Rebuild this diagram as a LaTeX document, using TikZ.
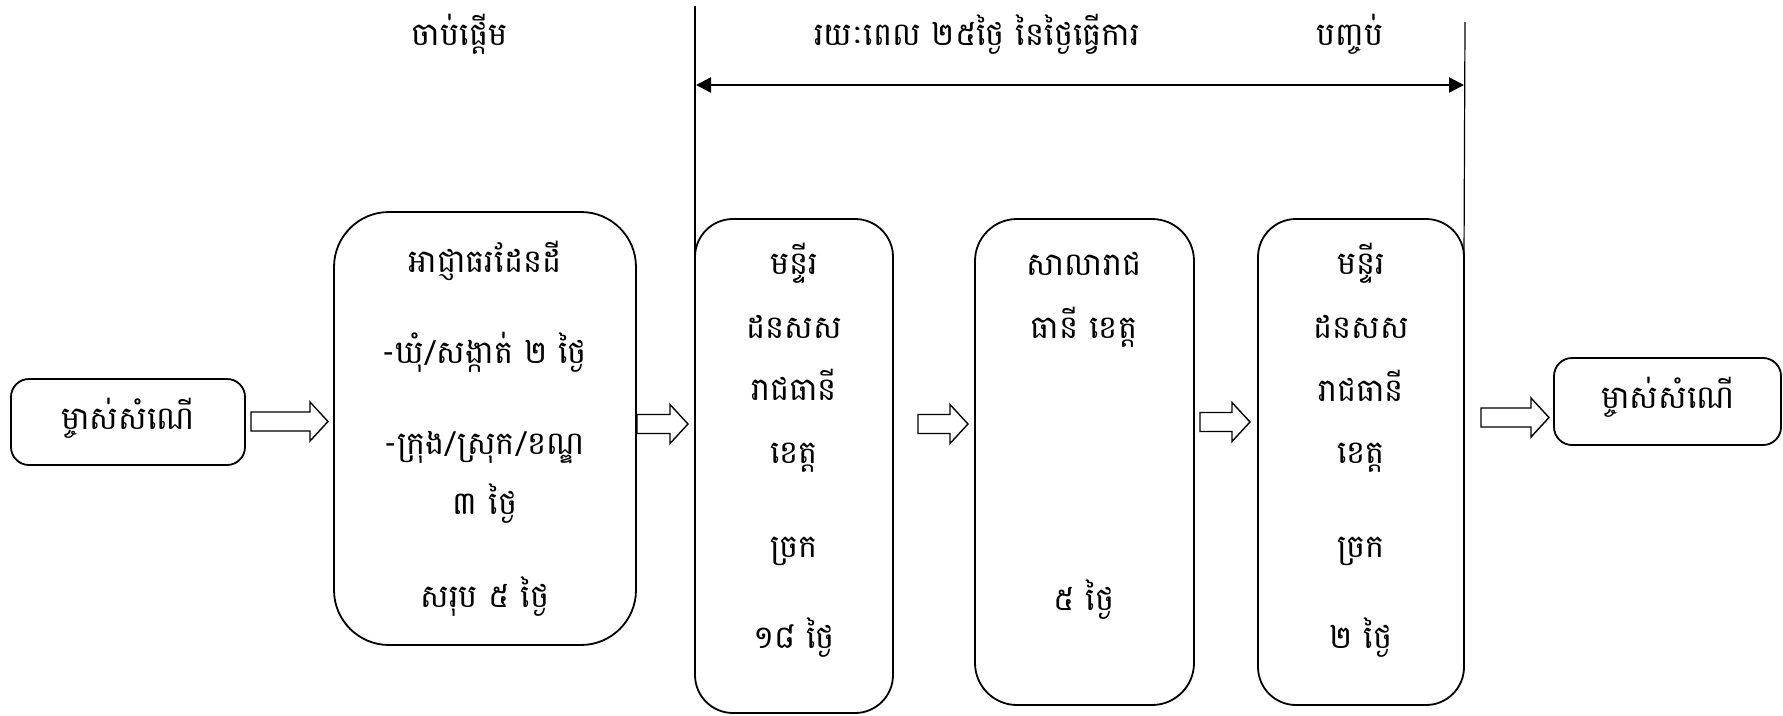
\documentclass[tikz,border=0pt]{standalone}
\usepackage{fontspec}
\newfontfamily\kh[Script=Khmer]{Battambang}
\usetikzlibrary{arrows.meta,calc}
\begin{document}
\begin{tikzpicture}[x=1pt,y=-1pt,
  box/.style={draw=black, line width=1.8pt, fill=white, inner sep=0pt, outer sep=0pt},
  txt/.style={font={\kh\fontsize{32pt}{36pt}\selectfont}, anchor=base, inner sep=0pt},
  vline/.style={draw=black, line width=1.2pt},
  span/.style={draw=black, line width=2.4pt, {Triangle[length=15pt,width=15pt]}-{Triangle[length=15pt,width=15pt]}},
  blk/.style={draw=black, line width=1.4pt, fill=white, line join=miter,
    to path={let \p1=(\tikztostart), \p2=(\tikztotarget) in
      (\x1,\y1+9.5pt) -- (\x2-18pt,\y1+9.5pt) -- (\x2-18pt,\y1+19.5pt) -- (\x2,\y1)
      -- (\x2-18pt,\y1-19.5pt) -- (\x2-18pt,\y1-9.5pt) -- (\x1,\y1-9.5pt) -- cycle}}
]
\useasboundingbox (0,0) rectangle (1783,715);

% boxes
\node[box, minimum width=234pt, minimum height=86pt, rounded corners=18pt] (A) at (128,422) {};
\node[box, minimum width=302pt, minimum height=433pt, rounded corners=55pt] (B) at (485,428.5) {};
\node[box, minimum width=198pt, minimum height=494pt, rounded corners=38pt] (C) at (794,466) {};
\node[box, minimum width=219pt, minimum height=486pt, rounded corners=42pt] (D) at (1084.5,462) {};
\node[box, minimum width=206pt, minimum height=486pt, rounded corners=38pt] (E) at (1361,462) {};
\node[box, minimum width=227pt, minimum height=87pt, rounded corners=18pt] (F) at (1667.5,401.5) {};

% texts
\node[txt] (tA) at (128,429) {ម្ចាស់សំណើ};
\node[txt] (tF) at (1668,408) {ម្ចាស់សំណើ};

\node[txt] (tB1) at (485,272) {អាជ្ញាធរដែនដី};
\node[txt] (tB2) at (485,363) {-ឃុំ/សង្កាត់ ២ ថ្ងៃ};
\node[txt] (tB3) at (485,454) {-ក្រុង/ស្រុក/ខណ្ឌ};
\node[txt] (tB4) at (485,514) {៣ ថ្ងៃ};
\node[txt] (tB5) at (485,607) {សរុប ៥ ថ្ងៃ};

\node[txt] (tC1) at (794,274) {មន្ទីរ};
\node[txt] (tC2) at (794,338) {ដនសស};
\node[txt] (tC3) at (794,400) {រាជធានី};
\node[txt] (tC4) at (794,463) {ខេត្ត};
\node[txt] (tC5) at (794,557) {ច្រក};
\node[txt] (tC6) at (794,648) {១៨ ថ្ងៃ};

\node[txt] (tD1) at (1084,275) {សាលារាជ};
\node[txt] (tD2) at (1084,338) {ធានី ខេត្ត};
\node[txt] (tD3) at (1084,610) {៥ ថ្ងៃ};

\node[txt] (tE1) at (1361,274) {មន្ទីរ};
\node[txt] (tE2) at (1361,338) {ដនសស};
\node[txt] (tE3) at (1361,401) {រាជធានី};
\node[txt] (tE4) at (1361,463) {ខេត្ត};
\node[txt] (tE5) at (1361,557) {ច្រក};
\node[txt] (tE6) at (1361,648) {២ ថ្ងៃ};

\node[txt] (top1) at (459.5,45) {ចាប់ផ្ដើម};
\node[txt] (top2) at (977,45) {រយៈពេល ២៥ថ្ងៃ នៃថ្ងៃធ្វើការ};
\node[txt] (top3) at (1350,45) {បញ្ចប់};

% vertical lines and span arrow
\coordinate (vL) at (695,6);
\coordinate (vR) at (1465,22);
\draw[vline] (vL) -- ([yshift=-38pt]C.north west);
\draw[vline] (vR) -- ([yshift=-38pt]E.north east);
\coordinate (hL) at (696,85);
\coordinate (hR) at (1464,85);
\draw[span] (hL) -- (hR);

% block arrows
\coordinate (a1s) at ($(A.east)+(6,-0.5)$);
\coordinate (a1e) at ($(B.west)+(-6,-7)$);
\coordinate (a2s) at ($(B.east)+(1,-4.5)$);
\coordinate (a2e) at ($(C.west)+(-7,-42)$);
\coordinate (a3s) at ($(C.east)+(25,-42)$);
\coordinate (a3e) at ($(D.west)+(-7,-38)$);
\coordinate (a4s) at ($(D.east)+(6,-40)$);
\coordinate (a4e) at ($(E.west)+(-8,-40)$);
\coordinate (a5s) at ($(E.east)+(17,-44.5)$);
\coordinate (a5e) at ($(F.west)+(-5,16)$);
\draw[blk] (a1s) to (a1e);
\draw[blk] (a2s) to (a2e);
\draw[blk] (a3s) to (a3e);
\draw[blk] (a4s) to (a4e);
\draw[blk] (a5s) to (a5e);
\end{tikzpicture}
\end{document}
